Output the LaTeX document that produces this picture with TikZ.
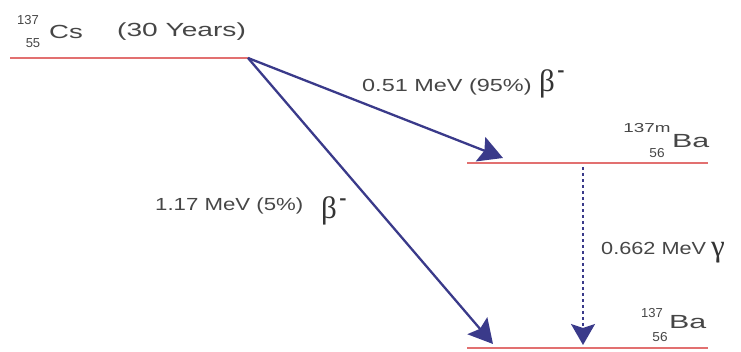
\documentclass[tikz,border=0pt]{standalone}
\usepackage{fontspec}
\usepackage{graphicx}
\setmainfont{Liberation Sans}
\newfontfamily\grk{Liberation Serif}
\usetikzlibrary{arrows.meta}
\definecolor{levelred}{RGB}{226,112,112}
\definecolor{arrowblue}{RGB}{58,58,138}
\definecolor{txtgray}{RGB}{70,70,70}
\newcommand\wtxt[3]{\scalebox{#2}[1]{\fontsize{#1}{#1}\selectfont #3}}
\tikzset{
  level/.style={draw=levelred, line width=2.4pt},
  decay/.style={draw=arrowblue, line width=2.3pt, -{Stealth[length=24pt 0,width=26pt 0,inset=4pt]}},
  gdecay/.style={draw=arrowblue, line width=2pt, dash pattern=on 3pt off 3pt, -{Stealth[length=21pt 0,width=24pt 0,inset=4pt]}},
  lbl/.style={inner sep=0pt, text=txtgray},
  glbl/.style={inner sep=0pt, text=black!80}
}
\begin{document}
\begin{tikzpicture}[x=1pt,y=-1pt]
\useasboundingbox (0,0) rectangle (741,352);
% level coordinates
\coordinate (csA) at (10,58);
\coordinate (csB) at (248,58);
\coordinate (bmA) at (467,163);
\coordinate (bmB) at (708,163);
\coordinate (bA) at (467,348);
\coordinate (bB) at (708,348);
\coordinate (t1) at (503,158);
\coordinate (t2) at (493,344);
\coordinate (g0) at (583,167);
\coordinate (g1) at (583,345);
% levels
\draw[level] (csA) -- (csB);
\draw[level] (bmA) -- (bmB);
\draw[level] (bA) -- (bB);
% decays
\draw[decay] (csB) -- (t1);
\draw[decay] (csB) -- (t2);
\draw[gdecay] (g0) -- (g1);
% Cs label
\node[lbl] (csmass) at (28,20) {\wtxt{13}{1.0}{137}};
\node[lbl] (csz) at (33,43) {\wtxt{13}{1.0}{55}};
\node[lbl, anchor=west] (cs) at (49,32) {\wtxt{19}{1.45}{Cs}};
\node[lbl, anchor=west] (cshalf) at (117,32) {\wtxt{19}{1.48}{(30 Years)}};
% 137m Ba
\node[lbl] (bmmass) at (647,128) {\wtxt{13}{1.45}{137m}};
\node[lbl] (bmz) at (657,153) {\wtxt{13}{1.05}{56}};
\node[lbl, anchor=west] (bm) at (672,141) {\wtxt{19}{1.6}{Ba}};
% 137 Ba
\node[lbl] (bmass) at (652,313) {\wtxt{13}{1.0}{137}};
\node[lbl] (bz) at (660,337) {\wtxt{13}{1.05}{56}};
\node[lbl, anchor=west] (b) at (669,322) {\wtxt{19}{1.6}{Ba}};
% transition labels
\node[lbl, anchor=west] (e1) at (362,87) {\wtxt{17.5}{1.34}{0.51 MeV (95\%)}};
\node[glbl] (beta1) at (547,84) {\grk\fontsize{31}{31}\selectfont β};
\node[glbl] (m1) at (561,74) {\wtxt{18}{1.2}{\bfseries -}};
\node[lbl, anchor=west] (e2) at (155,206) {\wtxt{17.5}{1.27}{1.17 MeV (5\%)}};
\node[glbl] (beta2) at (329,211) {\grk\fontsize{31}{31}\selectfont β};
\node[glbl] (m2) at (343,202) {\wtxt{18}{1.2}{\bfseries -}};
\node[lbl, anchor=west] (e3) at (601,248) {\wtxt{17.5}{1.24}{0.662 MeV}};
\node[glbl] (gam) at (718,253) {\grk\fontsize{31}{31}\selectfont γ};
\end{tikzpicture}
\end{document}
